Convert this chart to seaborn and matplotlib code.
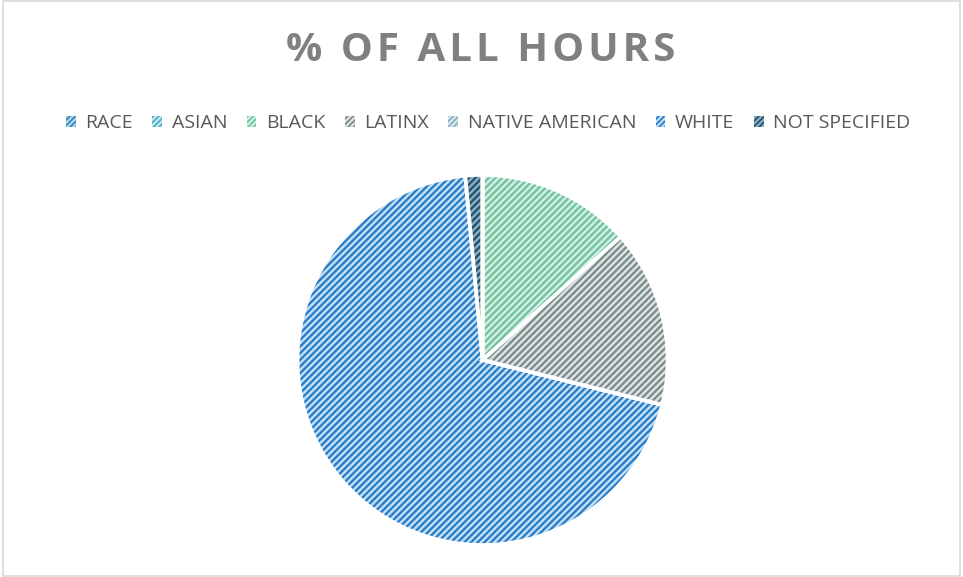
import matplotlib
matplotlib.use('Agg')
import matplotlib.pyplot as plt
import seaborn as sns
from matplotlib.patches import Patch, Rectangle

sns.set_theme(style='white')
plt.rcParams['font.family'] = ['Open Sans', 'DejaVu Sans']
plt.rcParams['hatch.linewidth'] = 1.6

# data (share of all hours, %)
labels = ['RACE', 'ASIAN', 'BLACK', 'LATINX', 'NATIVE AMERICAN', 'WHITE', 'NOT SPECIFIED']
hours_pct = [0, 0, 13.4, 15.5, 0, 69.6, 1.5]

# stripe colour and background tint per category
dark_cols = sns.color_palette(['#2E86BE', '#4BACC6', '#6EC29E', '#7A8A8A',
                               '#8AB0C4', '#237BC8', '#234E68'])
light_cols = sns.color_palette(['#B4D4E8', '#C4E5EE', '#D2EEE2', '#DDE2E2',
                                '#D6E5EE', '#C3DEF4', '#88AEC4'])

fig = plt.figure(figsize=(9.63, 5.77), dpi=100)

# pie axes: square box in pixels
ax = fig.add_axes([0.309, 0.0555, 0.3842, 0.6412])

# hatched fill
ax.pie(hours_pct, colors=light_cols, startangle=90, counterclock=False,
       radius=1, wedgeprops=dict(linewidth=0, hatch='/////'))
for w, c in zip(ax.patches, dark_cols):
    w.set_edgecolor(c)
# white separators on top
ax.pie(hours_pct, colors=['none'] * len(labels), startangle=90, counterclock=False,
       radius=1, wedgeprops=dict(linewidth=2.6, edgecolor='white'))
ax.set_xlim(-1.0, 1.0)
ax.set_ylim(-1.0, 1.0)
ax.set_axis_off()

# title, spaced out letters
title = '\u200a'.join('% OF ALL HOURS')
fig.text(0.4995, 0.912, title, ha='center', va='center', fontsize=29,
         fontweight='bold', color='#808080')

# legend, small squares
handles = [Patch(facecolor=dc, edgecolor=lc, hatch='//////', linewidth=0)
           for lc, dc in zip(light_cols, dark_cols)]
fig.legend(handles, labels, loc='center', bbox_to_anchor=(0.507, 0.786), ncol=7,
           frameon=False, fontsize=14, labelcolor='#595959',
           handlelength=0.5, handleheight=0.5, handletextpad=0.5, columnspacing=1.0)

# chart border
fig.patches.append(Rectangle((0.003, 0.002), 0.994, 0.996, transform=fig.transFigure,
                             fill=False, edgecolor='#D9D9D9', linewidth=1.2))

fig.savefig('out.png', dpi=100, facecolor='white')
